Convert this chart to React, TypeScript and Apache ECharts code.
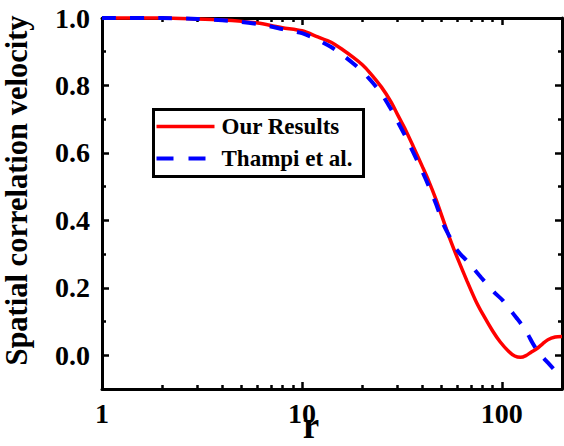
import React, { useEffect, useRef } from "react";
import * as echarts from "echarts";

const rRed = [1, 2, 3, 4, 5, 6, 7, 8, 10, 12, 14, 16, 18, 20, 22, 25, 28, 30, 33, 36, 40, 43, 47, 51, 55, 60, 67, 74, 81, 90, 98, 108, 116, 124, 132, 140, 150, 160, 170, 185, 200];
const vRed = [1.0, 1.0, 0.997, 0.994, 0.99, 0.985, 0.978, 0.971, 0.962, 0.944, 0.928, 0.906, 0.884, 0.862, 0.836, 0.795, 0.75, 0.715, 0.668, 0.62, 0.56, 0.518, 0.46, 0.40, 0.345, 0.288, 0.22, 0.162, 0.118, 0.072, 0.04, 0.012, -0.002, -0.006, -0.001, 0.009, 0.02, 0.034, 0.046, 0.054, 0.056];

const rBlue = [1, 2, 3, 4, 5, 6, 7, 8, 10, 12, 14, 16, 18, 20, 22, 25, 28, 30, 33, 36, 40, 43, 47, 51, 55, 58, 62, 67, 72, 79, 86, 93, 101, 110, 118, 126, 135, 142, 150, 160, 170, 180, 188, 200];
const vBlue = [1.0, 1.0, 0.997, 0.993, 0.988, 0.982, 0.975, 0.967, 0.955, 0.935, 0.914, 0.89, 0.866, 0.842, 0.816, 0.776, 0.728, 0.695, 0.648, 0.602, 0.545, 0.503, 0.447, 0.388, 0.35, 0.322, 0.30, 0.28, 0.258, 0.23, 0.205, 0.183, 0.163, 0.135, 0.112, 0.09, 0.062, 0.038, 0.015, -0.005, -0.022, -0.038, -0.05, -0.062];

const xMajorTicks = [1, 10, 100];
const xMinorTicks = [2, 3, 4, 5, 6, 7, 8, 9, 20, 30, 40, 50, 60, 70, 80, 90, 200];
const yMajorTicks = [0, 0.2, 0.4, 0.6, 0.8, 1.0];
const yMinorTicks = [-0.1, 0.1, 0.3, 0.5, 0.7, 0.9];

const seriesNames = ["Our Results", "Thampi et al."];

const FONT = "Liberation Serif";

export default function App() {
  const ref = useRef<HTMLDivElement>(null);
  useEffect(() => {
    if (!ref.current) return;
    const chart = echarts.init(ref.current, null, { renderer: "svg" });
    const X_MIN = 1, X_MAX = 200, Y_MIN = -0.1, Y_MAX = 1.0;
    const lineStyle = { color: "#000", width: 3 };

    const xAxis = (position: "bottom" | "top", major: boolean, main: boolean) => ({
      type: "log",
      logBase: 10,
      min: X_MIN,
      max: X_MAX,
      position,
      gridIndex: 0,
      name: main ? "r" : "",
      nameLocation: "middle",
      nameGap: 27,
      nameMoveOverlap: false,
      nameTextStyle: { fontFamily: FONT, fontWeight: "bold", fontSize: 37, lineHeight: 18, color: "#000", padding: [0, 42, 0, 0] },
      axisLine: { show: major, onZero: false, lineStyle },
      splitLine: { show: false },
      minorTick: { show: false },
      axisTick: {
        show: true,
        inside: true,
        length: major ? 7 : 4,
        customValues: major ? xMajorTicks : xMinorTicks,
        lineStyle: { color: "#000", width: 2.5 },
      },
      axisLabel: {
        show: main,
        customValues: xMajorTicks,
        fontFamily: FONT,
        fontWeight: "bold",
        fontSize: 28,
        lineHeight: 20,
        color: "#000",
        margin: 14,
        formatter: (v: number) => String(Math.round(v)),
      },
    });

    const yAxis = (position: "left" | "right", major: boolean, main: boolean) => ({
      type: "value",
      min: Y_MIN,
      max: Y_MAX,
      position,
      gridIndex: 0,
      name: main ? "Spatial correlation velocity" : "",
      nameLocation: "middle",
      nameGap: 70,
      nameMoveOverlap: false,
      nameTextStyle: { fontFamily: FONT, fontWeight: "bold", fontSize: 30.5, color: "#000", padding: [0, 0, 0, 26] },
      axisLine: { show: major, onZero: false, lineStyle },
      splitLine: { show: false },
      axisTick: {
        show: true,
        inside: true,
        length: major ? 7 : 4,
        customValues: major ? yMajorTicks : yMinorTicks,
        lineStyle: { color: "#000", width: 2.5 },
      },
      axisLabel: {
        show: main,
        customValues: yMajorTicks,
        fontFamily: FONT,
        fontWeight: "bold",
        fontSize: 28,
        color: "#000",
        margin: 12,
        formatter: (v: number) => v.toFixed(1),
      },
    });

    chart.setOption({
      animation: false,
      backgroundColor: "#fff",
      grid: { left: 102, top: 18, right: 2, bottom: 57, containLabel: false, outerBoundsMode: "none" },
      xAxis: [
        xAxis("bottom", true, true),
        xAxis("bottom", false, false),
        xAxis("top", true, false),
        xAxis("top", false, false),
      ],
      yAxis: [
        yAxis("left", true, true),
        yAxis("left", false, false),
        yAxis("right", true, false),
        yAxis("right", false, false),
      ],
      series: [
        {
          name: seriesNames[0],
          type: "line",
          xAxisIndex: 0,
          yAxisIndex: 0,
          data: rRed.map((r, i) => [r, vRed[i]]),
          showSymbol: false,
          symbol: "none",
          smooth: 0.25,
          clip: false,
          lineStyle: { color: "#ff0000", width: 3.5 },
          z: 3,
        },
        {
          name: seriesNames[1],
          type: "line",
          xAxisIndex: 0,
          yAxisIndex: 0,
          data: rBlue.map((r, i) => [r, vBlue[i]]),
          showSymbol: false,
          symbol: "none",
          smooth: 0.25,
          clip: false,
          lineStyle: { color: "#0000ff", width: 4, type: [14, 14] },
          z: 4,
        },
      ],
      graphic: [
        {
          type: "group",
          left: 152,
          top: 108,
          z: 10,
          children: [
            { type: "rect", shape: { x: 0, y: 0, width: 210, height: 67 }, style: { fill: "#fff", stroke: "#000", lineWidth: 3 } },
            { type: "line", shape: { x1: 3, y1: 17, x2: 61, y2: 17 }, style: { stroke: "#ff0000", lineWidth: 3.5 } },
            { type: "line", shape: { x1: 3, y1: 49, x2: 55, y2: 49 }, style: { stroke: "#0000ff", lineWidth: 4, lineDash: [17, 15] } },
            { type: "text", x: 68, y: 17, style: { text: seriesNames[0], fontFamily: FONT, fontWeight: "bold", fontSize: 23, fill: "#000", verticalAlign: "middle" } },
            { type: "text", x: 68, y: 49, style: { text: seriesNames[1], fontFamily: FONT, fontWeight: "bold", fontSize: 23, fill: "#000", verticalAlign: "middle" } },
          ],
        },
      ],
    });
    return () => chart.dispose();
  }, []);
  return <div ref={ref} style={{ width: 564, height: 446, position: "absolute", left: 0, top: 0 }} />;
}
